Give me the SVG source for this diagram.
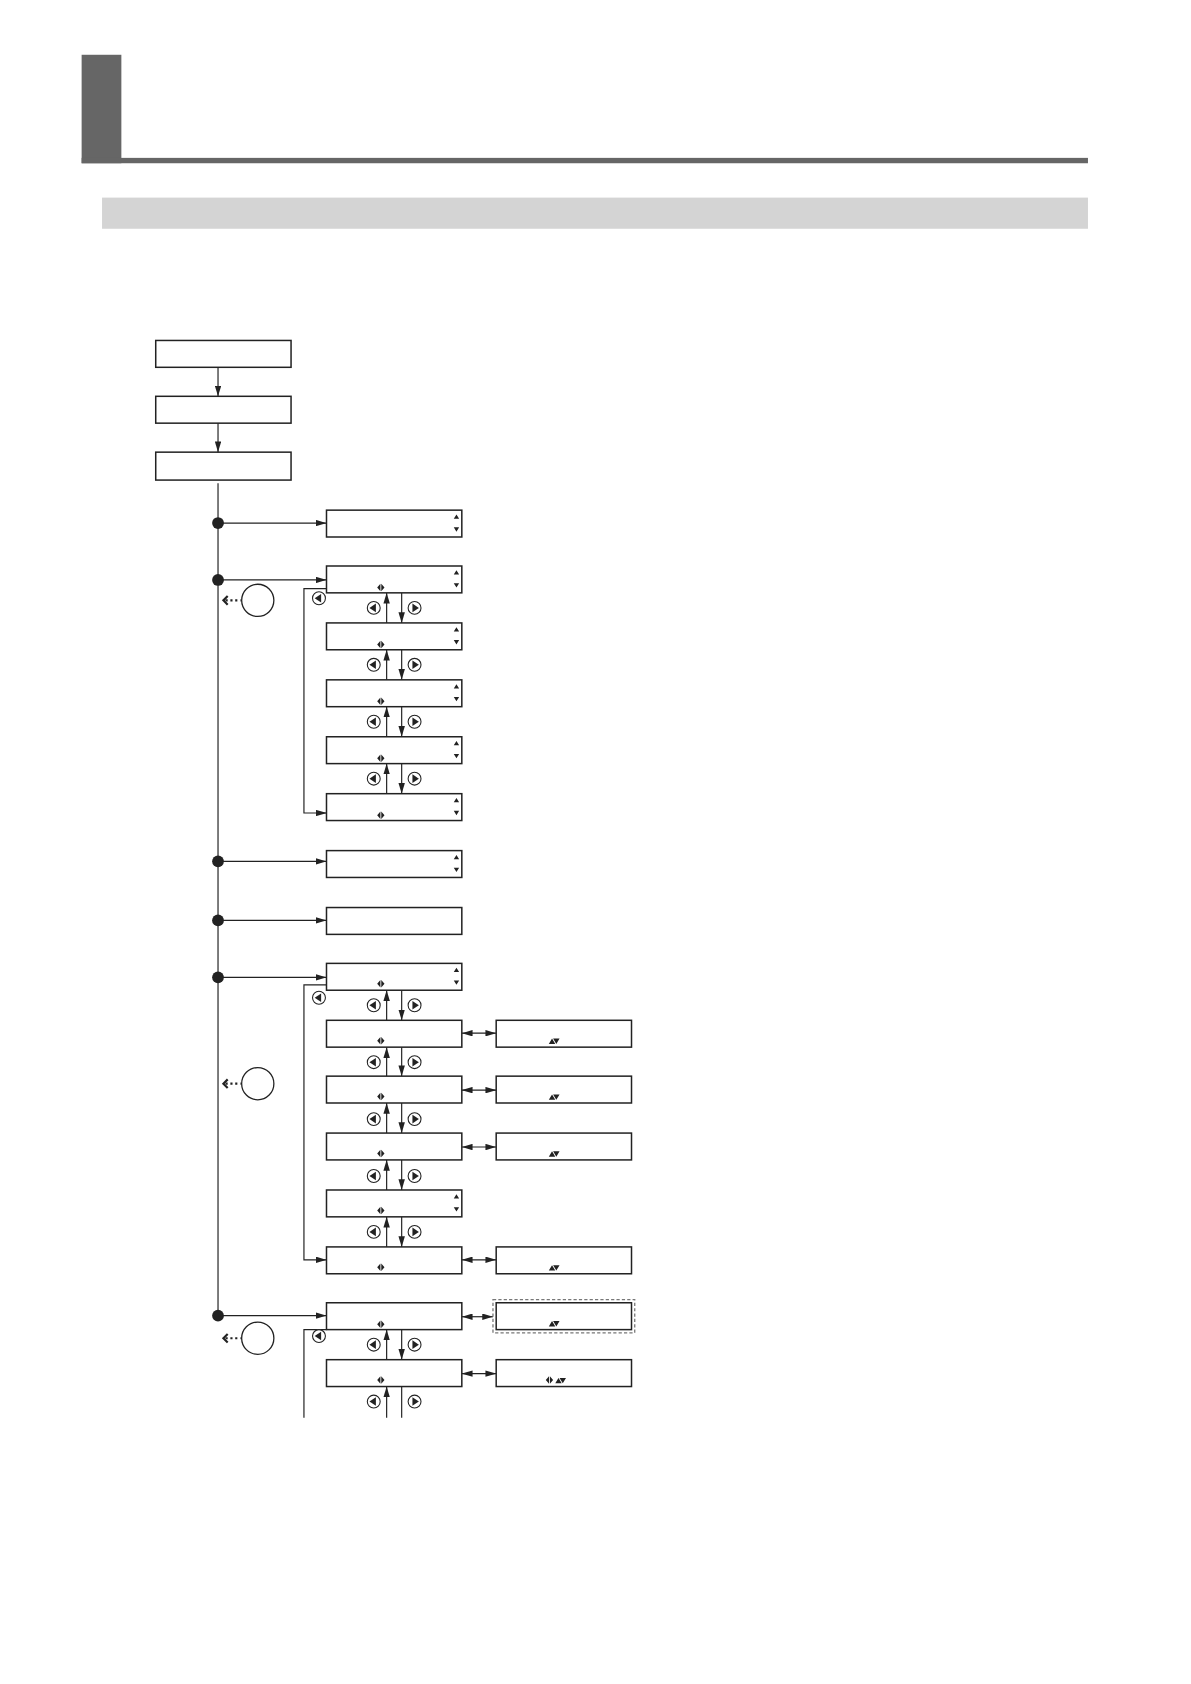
<svg xmlns="http://www.w3.org/2000/svg" width="1191" height="1684" viewBox="0 0 1191 1684">
<defs>
<style>
.b{fill:#fff;stroke:#222;stroke-width:1.4}
.l{fill:none;stroke:#222;stroke-width:1.1}
.t{fill:#222}
</style>
<marker id="a" viewBox="0 0 10 6" refX="10" refY="3" markerWidth="10" markerHeight="6" markerUnits="userSpaceOnUse" orient="auto-start-reverse"><path d="M0,0L10,3L0,6z" fill="#222"/></marker>
<g id="ar"><path d="M0,-3.5L3,0L0,3.5z M-0.8,-3.5L-3.8,0L-0.8,3.5z" fill="#222"/></g>
<g id="bl"><circle r="6" fill="#fff" stroke="#222" stroke-width="1"/><path d="M-4,0L2,-4V4z" fill="#222"/></g>
<g id="br"><circle r="6" fill="#fff" stroke="#222" stroke-width="1"/><path d="M4,0L-2,-4V4z" fill="#222"/></g>
<g id="sq"><path d="M0,-9L2.5,-5H-2.5z M0,7L2.5,3H-2.5z" fill="#222"/></g>
<g id="back"><circle cx="28" r="15" fill="#fff" stroke="#222" stroke-width="1.2"/><path d="M0,-4L-4,0L0,4" fill="none" stroke="#222" stroke-width="2"/><path d="M-2,0H12" stroke="#222" stroke-width="2" stroke-dasharray="2,2.5"/></g>
</defs>
<g transform="scale(1.074)">
<g id="header">
<rect x="76" y="51" width="37" height="101" fill="#666"/>
<rect x="76" y="147" width="937" height="5" fill="#666"/>
<rect x="95" y="184" width="918" height="29" fill="#d4d4d4"/>
</g>
<g id="top">
<rect id="n1" class="b" x="145" y="317" width="126" height="25"/>
<rect id="n2" class="b" x="145" y="369" width="126" height="25"/>
<rect id="n3" class="b" x="145" y="421" width="126" height="26"/>
</g>
<g id="connectors">
<path class="l" d="M203,342V369" marker-end="url(#a)"/>
<path class="l" d="M203,394V421" marker-end="url(#a)"/>
<path class="l" d="M203,450V1225"/>
<g fill="#222"><circle cx="203" cy="487" r="5.5"/><circle cx="203" cy="540" r="5.5"/><circle cx="203" cy="802" r="5.5"/><circle cx="203" cy="857" r="5.5"/><circle cx="203" cy="910" r="5.5"/><circle cx="203" cy="1225" r="5.5"/></g>
<path class="l" d="M203,487H304" marker-end="url(#a)"/>
<path class="l" d="M203,540H304" marker-end="url(#a)"/>
<path class="l" d="M203,802H304" marker-end="url(#a)"/>
<path class="l" d="M203,857H304" marker-end="url(#a)"/>
<path class="l" d="M203,910H304" marker-end="url(#a)"/>
<path class="l" d="M203,1225H304" marker-end="url(#a)"/>
<path class="l" d="M304,548H283V757H304" marker-end="url(#a)"/>
<path class="l" d="M304,917H283V1173H304" marker-end="url(#a)"/>
<path class="l" d="M304,1238H283V1320"/>
<path class="l" d="M360,580V552" marker-end="url(#a)"/><path class="l" d="M374,552V580" marker-end="url(#a)"/>
<path class="l" d="M360,633V605" marker-end="url(#a)"/><path class="l" d="M374,605V633" marker-end="url(#a)"/>
<path class="l" d="M360,686V658" marker-end="url(#a)"/><path class="l" d="M374,658V686" marker-end="url(#a)"/>
<path class="l" d="M360,739V711" marker-end="url(#a)"/><path class="l" d="M374,711V739" marker-end="url(#a)"/>
<path class="l" d="M360,950V922" marker-end="url(#a)"/><path class="l" d="M374,922V950" marker-end="url(#a)"/>
<path class="l" d="M360,1002V975" marker-end="url(#a)"/><path class="l" d="M374,975V1002" marker-end="url(#a)"/>
<path class="l" d="M360,1055V1027" marker-end="url(#a)"/><path class="l" d="M374,1027V1055" marker-end="url(#a)"/>
<path class="l" d="M360,1108V1080" marker-end="url(#a)"/><path class="l" d="M374,1080V1108" marker-end="url(#a)"/>
<path class="l" d="M360,1161V1133" marker-end="url(#a)"/><path class="l" d="M374,1133V1161" marker-end="url(#a)"/>
<path class="l" d="M360,1266V1238" marker-end="url(#a)"/><path class="l" d="M374,1238V1266" marker-end="url(#a)"/>
<path class="l" d="M360,1320V1291" marker-end="url(#a)"/><path class="l" d="M374,1291V1320"/>
<path class="l" d="M430,962H462" marker-start="url(#a)" marker-end="url(#a)"/>
<path class="l" d="M430,1015H462" marker-start="url(#a)" marker-end="url(#a)"/>
<path class="l" d="M430,1068H462" marker-start="url(#a)" marker-end="url(#a)"/>
<path class="l" d="M430,1173H462" marker-start="url(#a)" marker-end="url(#a)"/>
<path class="l" d="M430,1226H459" marker-start="url(#a)" marker-end="url(#a)"/>
<path class="l" d="M430,1279H462" marker-start="url(#a)" marker-end="url(#a)"/>
</g>
<g id="buttons">
<use href="#bl" x="297" y="557"/><use href="#bl" x="297" y="929"/><use href="#bl" x="297" y="1244"/>
<use href="#bl" x="348" y="566"/><use href="#br" x="386" y="566"/>
<use href="#bl" x="348" y="619"/><use href="#br" x="386" y="619"/>
<use href="#bl" x="348" y="672"/><use href="#br" x="386" y="672"/>
<use href="#bl" x="348" y="725"/><use href="#br" x="386" y="725"/>
<use href="#bl" x="348" y="936"/><use href="#br" x="386" y="936"/>
<use href="#bl" x="348" y="989"/><use href="#br" x="386" y="989"/>
<use href="#bl" x="348" y="1042"/><use href="#br" x="386" y="1042"/>
<use href="#bl" x="348" y="1095"/><use href="#br" x="386" y="1095"/>
<use href="#bl" x="348" y="1147"/><use href="#br" x="386" y="1147"/>
<use href="#bl" x="348" y="1252"/><use href="#br" x="386" y="1252"/>
<use href="#bl" x="348" y="1305"/><use href="#br" x="386" y="1305"/>
<use href="#back" x="212" y="559"/><use href="#back" x="212" y="1009"/><use href="#back" x="212" y="1246"/>
</g>
<g id="col">
<rect class="b" x="304" y="475" width="126" height="25"/>
<rect class="b" x="304" y="527" width="126" height="25"/>
<rect class="b" x="304" y="580" width="126" height="25"/>
<rect class="b" x="304" y="633" width="126" height="25"/>
<rect class="b" x="304" y="686" width="126" height="25"/>
<rect class="b" x="304" y="739" width="126" height="25"/>
<rect class="b" x="304" y="792" width="126" height="25"/>
<rect class="b" x="304" y="845" width="126" height="25"/>
<rect class="b" x="304" y="897" width="126" height="25"/>
<rect class="b" x="304" y="950" width="126" height="25"/>
<rect class="b" x="304" y="1002" width="126" height="25"/>
<rect class="b" x="304" y="1055" width="126" height="25"/>
<rect class="b" x="304" y="1108" width="126" height="25"/>
<rect class="b" x="304" y="1161" width="126" height="25"/>
<rect class="b" x="304" y="1213" width="126" height="25"/>
<rect class="b" x="304" y="1266" width="126" height="25"/>
<g class="t">
<use href="#sq" x="425" y="488"/><use href="#sq" x="425" y="540"/><use href="#sq" x="425" y="593"/><use href="#sq" x="425" y="646"/><use href="#sq" x="425" y="699"/><use href="#sq" x="425" y="752"/><use href="#sq" x="425" y="805"/><use href="#sq" x="425" y="910"/><use href="#sq" x="425" y="1121"/>
<use href="#ar" x="355" y="547"/><use href="#ar" x="355" y="600"/><use href="#ar" x="355" y="653"/><use href="#ar" x="355" y="706"/><use href="#ar" x="355" y="759"/><use href="#ar" x="355" y="916"/><use href="#ar" x="355" y="969"/><use href="#ar" x="355" y="1021"/><use href="#ar" x="355" y="1074"/><use href="#ar" x="355" y="1127"/><use href="#ar" x="355" y="1180"/><use href="#ar" x="355" y="1233"/><use href="#ar" x="355" y="1285"/>
</g>
</g>
<g id="right">
<rect class="b" x="462" y="950" width="126" height="25"/>
<rect class="b" x="462" y="1002" width="126" height="25"/>
<rect class="b" x="462" y="1055" width="126" height="25"/>
<rect class="b" x="462" y="1161" width="126" height="25"/>
<rect x="459" y="1210" width="132" height="31" fill="none" stroke="#777" stroke-width="1.2" stroke-dasharray="3,2"/>
<rect class="b" x="462" y="1213" width="126" height="25"/>
<rect class="b" x="462" y="1266" width="126" height="25"/>
<g fill="#222">
<path d="M511,972L514,967L517,972z M515,967L518,972L521,967z"/>
<path d="M511,1024L514,1019L517,1024z M515,1019L518,1024L521,1019z"/>
<path d="M511,1077L514,1072L517,1077z M515,1072L518,1077L521,1072z"/>
<path d="M511,1183L514,1178L517,1183z M515,1178L518,1183L521,1178z"/>
<path d="M511,1235L514,1230L517,1235z M515,1230L518,1235L521,1230z"/>
<path d="M517,1288L520,1283L523,1288z M521,1283L524,1288L527,1283z"/>
</g>
<use href="#ar" x="512" y="1285"/>
</g>
</g>
</svg>
